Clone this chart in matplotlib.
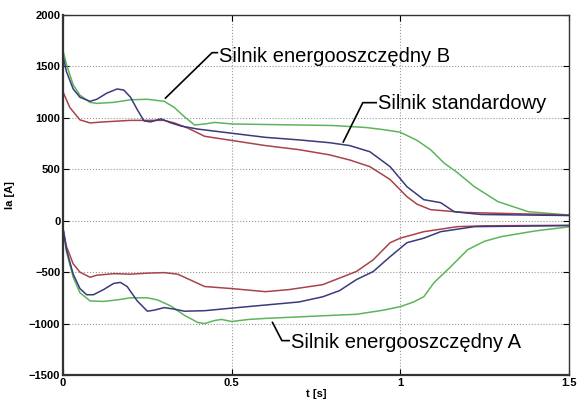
import matplotlib
matplotlib.use('Agg')
import matplotlib.pyplot as plt

plt.rcParams['font.family'] = ['Liberation Sans', 'DejaVu Sans']

# --- upper branch (positive current) ---
t_b_up = [0, 0.01, 0.03, 0.05, 0.08, 0.1, 0.15, 0.2, 0.25, 0.3, 0.33, 0.36, 0.39, 0.42,
          0.45, 0.5, 0.6, 0.7, 0.8, 0.9, 0.95, 1.0, 1.05, 1.09, 1.13, 1.17, 1.22, 1.29,
          1.38, 1.5]
i_b_up = [1650, 1520, 1320, 1220, 1150, 1140, 1150, 1175, 1180, 1160, 1100, 1010, 930, 940,
          955, 940, 935, 930, 925, 905, 885, 860, 780, 690, 560, 466, 330, 185,
          87, 55]

t_s_up = [0, 0.01, 0.03, 0.05, 0.08, 0.1, 0.13, 0.16, 0.18, 0.2, 0.22, 0.24, 0.26, 0.29,
          0.32, 0.35, 0.4, 0.5, 0.6, 0.7, 0.79, 0.85, 0.91, 0.97, 1.02, 1.07, 1.12,
          1.16, 1.24, 1.5]
i_s_up = [1600, 1450, 1280, 1200, 1160, 1180, 1240, 1280, 1270, 1200, 1080, 970, 960, 990,
          950, 920, 890, 850, 810, 785, 758, 730, 670, 525, 330, 204, 175,
          87, 60, 50]

t_a_up = [0, 0.02, 0.05, 0.08, 0.12, 0.2, 0.3, 0.33, 0.37, 0.42, 0.5, 0.6, 0.7, 0.79,
          0.85, 0.91, 0.97, 1.02, 1.05, 1.09, 1.19, 1.5]
i_a_up = [1250, 1100, 980, 950, 960, 975, 975, 950, 900, 820, 780, 730, 690, 640,
          590, 525, 400, 233, 160, 107, 80, 55]

# --- lower branch (negative current) ---
t_a_lo = [0, 0.01, 0.03, 0.05, 0.08, 0.1, 0.15, 0.2, 0.25, 0.3, 0.34, 0.38, 0.42, 0.5,
          0.6, 0.67, 0.77, 0.87, 0.92, 0.97, 1.0, 1.07, 1.17, 1.25, 1.5]
i_a_lo = [-80, -250, -420, -500, -550, -530, -515, -520, -510, -505, -520, -580, -640, -660,
          -690, -670, -622, -494, -380, -214, -170, -107, -58, -50, -45]

t_s_lo = [0, 0.01, 0.03, 0.05, 0.07, 0.09, 0.12, 0.15, 0.17, 0.19, 0.22, 0.25, 0.27, 0.3,
          0.33, 0.36, 0.42, 0.5, 0.6, 0.7, 0.77, 0.82, 0.87, 0.92, 0.97, 1.02, 1.07,
          1.12, 1.22, 1.5]
i_s_lo = [-80, -280, -520, -660, -720, -720, -670, -610, -600, -640, -780, -880, -870, -845,
          -860, -880, -875, -850, -820, -790, -740, -680, -573, -494, -350, -214, -170,
          -107, -58, -48]

t_b_lo = [0, 0.01, 0.03, 0.05, 0.08, 0.12, 0.16, 0.2, 0.25, 0.28, 0.32, 0.36, 0.4, 0.42,
          0.45, 0.47, 0.5, 0.55, 0.6, 0.7, 0.8, 0.87, 0.95, 1.0, 1.04, 1.07, 1.1, 1.15,
          1.2, 1.25, 1.3, 1.4, 1.5]
i_b_lo = [-80, -300, -550, -700, -780, -785, -770, -750, -750, -770, -830, -920, -990, -1000,
          -970, -960, -980, -960, -950, -935, -920, -910, -870, -836, -790, -739, -603, -447,
          -282, -200, -155, -100, -60]

GREEN = '#5cb55c'
BLUE = '#3a3a7c'
RED = '#a8434c'

fig = plt.figure(figsize=(5.84, 4.03), dpi=100)
ax = fig.add_axes([0.108, 0.0695, 0.866, 0.8935])

ax.plot(t_b_up, i_b_up, color=GREEN, lw=1.1)
ax.plot(t_b_lo, i_b_lo, color=GREEN, lw=1.1)
ax.plot(t_a_up, i_a_up, color=RED, lw=1.1)
ax.plot(t_a_lo, i_a_lo, color=RED, lw=1.1)
ax.plot(t_s_up, i_s_up, color=BLUE, lw=1.1)
ax.plot(t_s_lo, i_s_lo, color=BLUE, lw=1.1)

ax.set_xlim(0, 1.5)
ax.set_ylim(-1500, 2000)
ax.set_xticks([0, 0.5, 1, 1.5])
ax.set_xticklabels(['0', '0.5', '1', '1.5'])
ax.set_yticks(range(-1500, 2001, 500))
ax.grid(True, color='#999999', linestyle=':', linewidth=0.8)
ax.tick_params(direction='in', length=4, top=True, right=True, labelsize=8, pad=2)
for lab in ax.get_xticklabels() + ax.get_yticklabels():
    lab.set_fontweight('bold')
for sp in ax.spines.values():
    sp.set_color('#333333')
    sp.set_linewidth(1.0)
ax.spines['left'].set_linewidth(1.6)
ax.spines['bottom'].set_linewidth(1.6)

ax.set_xlabel('t [s]', fontsize=8, fontweight='bold', labelpad=1)
ax.set_ylabel('Ia [A]', fontsize=8, fontweight='bold', labelpad=10)

# labels with leader lines
ann = dict(fontsize=14.5, va='center', ha='left')
lk = dict(color='black', lw=1.2, solid_capstyle='butt')

ax.plot([0.302, 0.442, 0.460], [1186, 1633, 1633], **lk)
ax.text(0.462, 1600, 'Silnik energooszczędny B', **ann)

ax.plot([0.830, 0.889, 0.931], [758, 1147, 1147], **lk)
ax.text(0.933, 1140, 'Silnik standardowy', **ann)

ax.plot([0.620, 0.649, 0.673], [-982, -1166, -1166], **lk)
ax.text(0.675, -1180, 'Silnik energooszczędny A', **ann)

fig.savefig('out.png', dpi=100)
